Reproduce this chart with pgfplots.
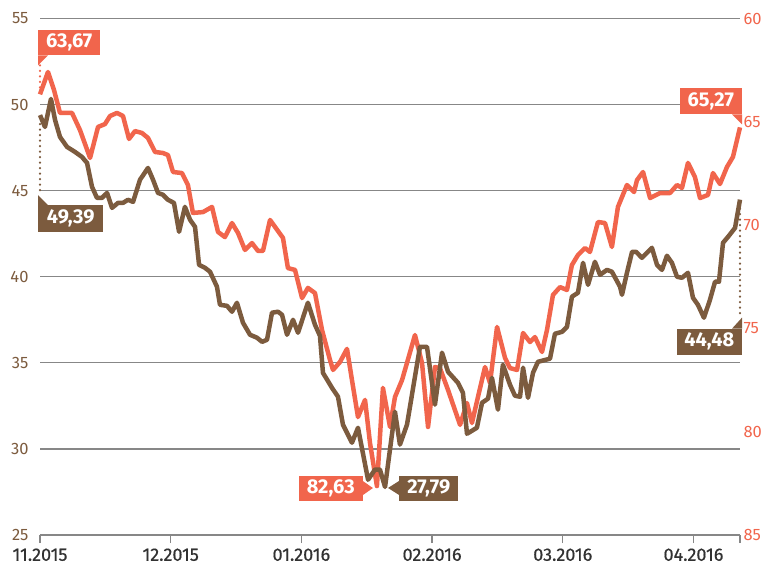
\documentclass[border=0pt]{standalone}
\usepackage{fontspec}
\setmainfont{Fira Sans}
\newfontfamily\medfont[FakeBold=0.6]{Fira Sans}
\usepackage{pgfplots}
\usepackage{pgfplotstable}
\pgfplotsset{compat=1.18}
\definecolor{cred}{RGB}{241,101,76}
\definecolor{cbrown}{RGB}{124,91,62}
\definecolor{cgrid}{RGB}{135,135,135}
\definecolor{ctext}{RGB}{50,50,50}

\pgfplotstableread{
x y
0 49.39
0.038 48.70
0.084 50.33
0.115 49.11
0.153 48.12
0.207 47.54
0.268 47.25
0.321 46.96
0.360 46.61
0.398 45.22
0.436 44.58
0.474 44.58
0.513 44.87
0.551 44.00
0.597 44.29
0.635 44.29
0.673 44.47
0.712 44.35
0.765 45.63
0.826 46.32
0.865 45.63
0.903 44.87
0.941 44.76
0.979 44.47
1.025 44.29
1.064 42.61
1.109 44.06
1.148 43.31
1.186 42.90
1.217 40.69
1.262 40.52
1.301 40.29
1.354 39.42
1.377 38.37
1.431 38.31
1.469 37.97
1.507 38.49
1.553 37.33
1.607 36.63
1.660 36.46
1.699 36.22
1.737 36.34
1.775 37.91
1.821 37.97
1.852 37.79
1.890 36.63
1.936 37.50
1.974 36.75
2.050 38.49
2.104 37.21
2.142 36.57
2.165 34.42
2.234 33.55
2.280 33.03
2.318 31.41
2.387 30.36
2.433 31.23
2.510 28.21
2.563 28.80
2.601 28.80
2.640 27.79
2.716 32.16
2.754 30.25
2.808 31.41
2.907 35.93
2.961 35.93
3.022 32.57
3.076 35.59
3.122 34.48
3.198 33.84
3.236 33.26
3.267 30.88
3.343 31.23
3.382 32.68
3.428 32.92
3.458 34.13
3.504 32.28
3.542 34.89
3.596 33.73
3.634 33.09
3.673 33.03
3.696 34.72
3.734 32.97
3.772 34.42
3.810 35.06
3.902 35.24
3.940 36.69
3.994 36.80
4.032 37.09
4.070 38.84
4.116 39.07
4.155 40.81
4.193 39.53
4.246 40.87
4.285 40.11
4.338 40.40
4.376 40.29
4.438 39.42
4.453 38.95
4.491 40.23
4.530 41.45
4.560 41.45
4.606 41.10
4.682 41.68
4.721 40.69
4.759 40.40
4.797 41.22
4.835 40.81
4.874 40.00
4.912 39.94
4.958 40.23
4.996 38.78
5.034 38.37
5.080 37.62
5.126 38.66
5.165 39.71
5.195 39.71
5.226 41.97
5.271 42.38
5.318 42.84
5.356 44.48
}\brown

\pgfplotstableread{
x y
0 63.67
0.061 62.59
0.107 63.46
0.153 64.57
0.245 64.57
0.306 65.40
0.383 66.75
0.444 65.25
0.497 65.11
0.536 64.72
0.589 64.57
0.635 64.72
0.681 65.83
0.727 65.45
0.780 65.54
0.826 65.78
0.880 66.46
0.941 66.51
0.979 66.61
1.018 67.43
1.086 67.48
1.132 68.06
1.170 69.41
1.247 69.37
1.316 69.12
1.362 70.33
1.415 70.58
1.469 69.90
1.515 70.38
1.568 71.20
1.622 70.87
1.668 71.25
1.706 71.25
1.760 69.75
1.859 70.62
1.897 72.08
1.951 72.17
2.005 73.53
2.050 73.04
2.104 73.29
2.158 75.08
2.219 76.53
2.242 77.01
2.295 76.63
2.349 75.99
2.387 77.50
2.433 79.29
2.487 78.46
2.525 80.55
2.578 82.63
2.624 77.88
2.678 79.77
2.716 78.32
2.770 77.50
2.808 76.67
2.869 75.32
2.923 76.67
2.969 79.77
3.022 76.87
3.060 76.92
3.122 77.98
3.214 79.67
3.267 78.61
3.305 79.58
3.351 78.32
3.405 76.87
3.443 77.64
3.497 74.93
3.558 76.43
3.596 76.92
3.650 77.01
3.696 75.22
3.749 75.66
3.787 75.42
3.841 76.14
3.879 75.08
3.925 73.38
3.979 73.00
4.032 73.14
4.070 71.93
4.116 71.45
4.170 71.11
4.208 71.30
4.269 69.85
4.323 69.90
4.376 71.06
4.422 69.12
4.491 68.06
4.545 68.40
4.568 67.82
4.614 67.43
4.668 68.69
4.744 68.45
4.820 68.45
4.874 68.06
4.912 68.20
4.958 66.99
5.011 67.67
5.050 68.69
5.111 68.54
5.149 67.48
5.203 68.01
5.256 67.19
5.302 66.70
5.356 65.27
}\red

\pgfplotsset{
  base/.style={
    scale only axis, width=700pt, height=516.5pt,
    xmin=0, xmax=5.356, at={(0,0)}, anchor=south west,
    clip=false, set layers,
    axis line style={draw=none},
    /pgf/number format/assume math mode=true,
    tick label style={font=\fontsize{16.5}{16.5}\selectfont},
  },
}
\tikzset{
  lab/.style={inner sep=0pt, text=white, font=\bfseries\fontsize{20}{20}\selectfont},
  dotline/.style={line width=2.4pt, dash pattern=on 0pt off 5.5pt, line cap=round},
}

\begin{document}
\begin{tikzpicture}
% red series, right inverted axis
\begin{axis}[base,
  ymin=60, ymax=85, y dir=reverse,
  ytick={60,65,70,75,80,85}, ytick pos=right,
  ytick style={draw=none},
  yticklabel style={text=cred},
  xtick=\empty, hide x axis,
]
\addplot[cred, line width=4.5pt, line join=round] table[x=x,y=y] {\red};
\draw[cred, dotline] (0,63.67) ++(0pt,7pt) -- ++(0pt,22pt);
\fill[cred] (0,63.67) ++(-2pt,29pt) -- ++(0pt,10pt) -- ++(10pt,0pt) -- cycle;
\path (0,63.67) ++(-2pt,39pt) node[lab, fill=cred, anchor=south west, minimum width=62pt, minimum height=25pt] {63,67};
\fill[cred] (5.356,65.27) ++(2pt,3pt) -- ++(0pt,10pt) -- ++(-10pt,0pt) -- cycle;
\path (5.356,65.27) ++(2pt,13pt) node[lab, fill=cred, anchor=south east, minimum width=62pt, minimum height=26pt] {65,27};
\fill[cred] (2.578,82.63) ++(-4pt,-2pt) -- ++(-10pt,7pt) -- ++(0pt,-14pt) -- cycle;
\path (2.578,82.63) ++(-14pt,-2.5pt) node[lab, fill=cred, anchor=east, minimum width=64pt, minimum height=25pt] {82,63};
\end{axis}
% brown series, left axis
\begin{axis}[base,
  ymin=25, ymax=55,
  ytick={25,30,35,40,45,50,55}, ytick pos=left,
  ytick style={draw=none},
  yticklabel style={text=cbrown},
  ymajorgrids, grid style={cgrid, line width=1.2pt},
  xtick={0,1,2,3,4,5,5.356},
  xticklabels={11.2015,12.2015,01.2016,02.2016,03.2016,04.2016,{}},
  xtick pos=bottom, tick align=outside, major tick length=8pt,
  xtick style={cgrid, line width=1.2pt},
  xticklabel style={text=ctext, font=\medfont\fontsize{18}{18}\selectfont, yshift=-2pt},
]
\addplot[cbrown, line width=4.5pt, line join=round] table[x=x,y=y] {\brown};
\draw[cbrown, dotline] (0,49.39) ++(0pt,-9pt) -- ++(0pt,-71pt);
\fill[cbrown] (0,49.39) ++(-2pt,-80pt) -- ++(0pt,-10pt) -- ++(10pt,0pt) -- cycle;
\path (0,49.39) ++(-2pt,-90pt) node[lab, fill=cbrown, anchor=north west, minimum width=65pt, minimum height=27pt] {49,39};
\draw[cbrown, dotline] (5.356,44.48) ++(0pt,-9pt) -- ++(0pt,-109pt);
\fill[cbrown] (5.356,44.48) ++(2pt,-118pt) -- ++(0pt,-11pt) -- ++(-10pt,0pt) -- cycle;
\path (5.356,44.48) ++(2pt,-129pt) node[lab, fill=cbrown, anchor=north east, minimum width=65pt, minimum height=26pt] {44,48};
\fill[cbrown] (2.640,27.79) ++(3pt,-1pt) -- ++(11pt,7pt) -- ++(0pt,-14pt) -- cycle;
\path (2.640,27.79) ++(14pt,-1.5pt) node[lab, fill=cbrown, anchor=west, minimum width=59pt, minimum height=25pt] {27,79};
\end{axis}
\path (-40pt,-31pt) rectangle (730pt,535pt);
\end{tikzpicture}
\end{document}
